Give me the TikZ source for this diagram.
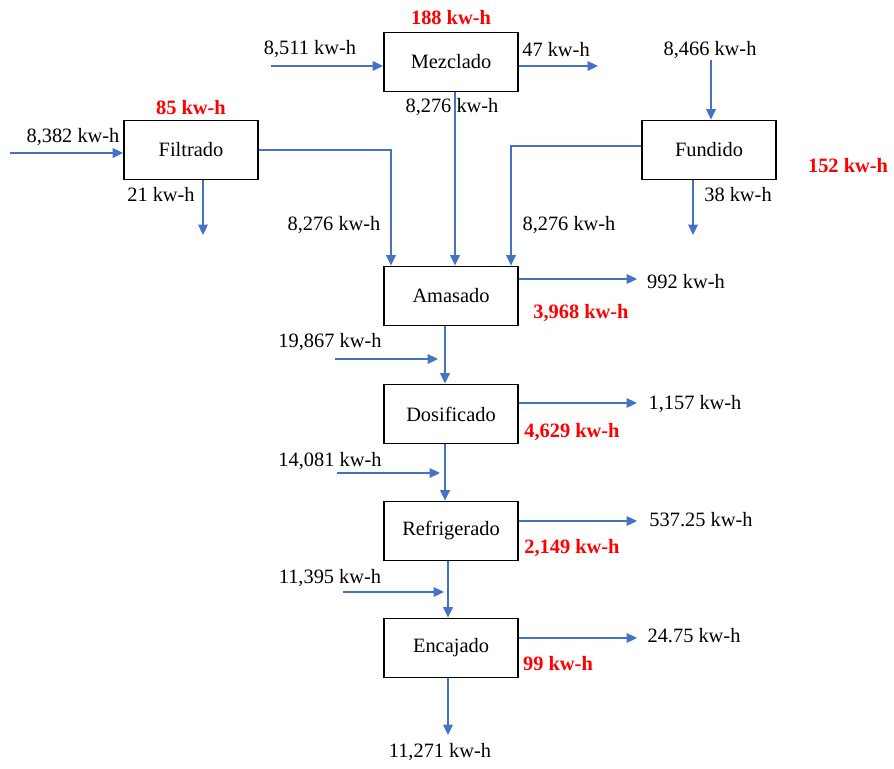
\documentclass[tikz,border=0pt]{standalone}
\usepackage{fontspec}
\setmainfont{Liberation Serif}
\usetikzlibrary{arrows.meta, positioning}
\definecolor{flowblue}{RGB}{68,114,196}

\begin{document}
\begin{tikzpicture}[x=0.025cm, y=-0.025cm,
  stage/.style={rectangle, draw, line width=1.3pt, minimum width=3.35cm, minimum height=1.475cm, font=\fontsize{14.5}{17}\selectfont},
  flow/.style={-{Triangle[length=2.6mm, width=2.4mm]}, line width=1.1pt, flowblue},
  lbl/.style={font=\fontsize{14.5}{17}\selectfont, inner sep=1pt},
  loss/.style={font=\bfseries\fontsize{14.5}{17}\selectfont, text=red, inner sep=1pt}
]
\useasboundingbox (0,0) rectangle (894,769);

% stages
\node[stage] (mez) at (451,62) {Mezclado};
\node[stage] (fil) at (191,150) {Filtrado};
\node[stage] (fun) at (709,150) {Fundido};
\foreach \n/\y/\t in {ama/296/Amasado, dos/414/Dosificado, ref/531/Refrigerado, enc/648/Encajado} {
  \node[stage] (\n) at (451,\y) {\t};
}

% energy labels
\foreach \n/\x/\y/\t in {lmezin/310/49/{8,511}, lmezout/556/50/{47}, lmezdn/452/107/{8,276},
    lfunin/710/50/{8,466}, lfunout/738/195/{38}, lfundn/569/225/{8,276},
    lfilin/73/137/{8,382}, lfilout/161/195/{21}, lfildn/334/225/{8,276},
    lamaout/686/282/{992}, ldosin/330/342/{19,867}, ldosout/695/404/{1,157},
    lrefin/330/461/{14,081}, lrefout/701/520/{537.25}, lencin/330/578/{11,395},
    lencout/694/636/{24.75}, lfin/440/752/{11,271}} {
  \node[lbl] (\n) at (\x,\y) {\t\ kw-h};
}
\foreach \n/\x/\y/\t in {rmez/451/18/{188}, rfil/191/108/{85}, rfun/848/166/{152},
    rama/581/313/{3,968}, rdos/572/432/{4,629}, rref/572/548/{2,149}, renc/558/664/{99}} {
  \node[loss] (\n) at (\x,\y) {\t\ kw-h};
}

% free ends
\coordinate (mezin) at (271,66);
\coordinate (mezout) at (598,66);
\coordinate (funin) at (711,60);
\coordinate (funout) at (693,235);
\coordinate (filin) at (10,153);
\coordinate (filout) at (203,235);
\coordinate (dosin) at (335,359);
\coordinate (refin) at (337,473);
\coordinate (encin) at (343,592);
\coordinate (finout) at (448,735);
\foreach \n/\y in {ama/279, dos/403, ref/521, enc/638} {
  \coordinate (\n out) at (637,\y);
  \draw[flow] (\n.east |- \n out) -- (\n out);
}

% connectors
\draw[flow] (mezin) -- (mezin -| mez.west);
\draw[flow] (mez.east |- mezout) -- (mezout);
\draw[flow] ([xshift=0.1cm]mez.south) -- ([xshift=0.1cm]ama.north);
\draw[flow] (funin) -- (funin |- fun.north);
\draw[flow] (funout |- fun.south) -- (funout);
\draw[flow] ([yshift=0.1cm]fun.west) -| ([xshift=1.5cm]ama.north);
\draw[flow] (filin) -- (filin -| fil.west);
\draw[flow] (filout |- fil.south) -- (filout);
\draw[flow] (fil.east) -| ([xshift=-1.5cm]ama.north);
\draw[flow] ([xshift=-0.15cm]ama.south) -- ([xshift=-0.15cm]dos.north);
\draw[flow] ([xshift=-0.15cm]dos.south) -- ([xshift=-0.15cm]ref.north);
\draw[flow] ([xshift=-0.075cm]ref.south) -- ([xshift=-0.075cm]enc.north);
\draw[flow] (enc.south -| finout) -- (finout);
\draw[flow] (dosin) -- (438,359);
\draw[flow] (refin) -- (440,473);
\draw[flow] (encin) -- (444,592);
\end{tikzpicture}
\end{document}
